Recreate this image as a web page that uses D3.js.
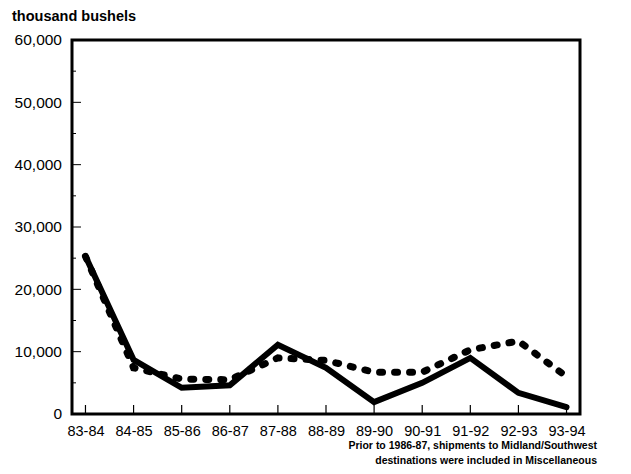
<!DOCTYPE html>
<html><head><meta charset="utf-8">
<script src="https://cdn.jsdelivr.net/npm/d3@7"></script>
<style>body{margin:0;background:#fff}svg{display:block}text{font-family:"Liberation Sans",Arial,sans-serif;fill:#000}</style>
</head><body>
<svg id="c" width="631" height="474"></svg>
<script>
const categories = ["83-84","84-85","85-86","86-87","87-88","88-89","89-90","90-91","91-92","92-93","93-94"];
const solidValues = [25300, 8700, 4200, 4600, 11100, 7400, 1900, 5000, 9000, 3400, 1100];
const dottedValues = [25300, 7400, 5600, 5500, 9000, 8600, 6700, 6700, 10300, 11700, 6000];
const yTicks = [0, 10000, 20000, 30000, 40000, 50000, 60000];
const yMinorTicks = [5000, 15000, 25000, 35000, 45000, 55000];
const yLabel = "thousand bushels";
const note = ["Prior to 1986-87, shipments to Midland/Southwest", "destinations were included in Miscellaneous"];

const svg = d3.select("#c");
const L = 72, R = 580, T = 40, B = 414;
const x = d3.scalePoint().domain(categories).range([L, R]).padding(0.28);
const y = d3.scaleLinear().domain([0, 60000]).range([B, T]);

svg.append("text").attr("x", 12).attr("y", 21).attr("font-size", 14.5).attr("font-weight", "bold").text(yLabel);

// y axis labels
const ya = svg.append("g").attr("transform", `translate(${L},0)`)
  .call(d3.axisLeft(y).tickValues(yTicks).tickSize(0).tickPadding(10).tickFormat(d3.format(",")));
ya.select(".domain").remove();
ya.selectAll("text").attr("font-size", 15.5).attr("font-family", '"Liberation Sans",Arial,sans-serif');

// y inner ticks
svg.append("g").selectAll("line").data(yTicks.slice(1, -1)).join("line")
  .attr("x1", L).attr("x2", L + 9).attr("y1", d => y(d)).attr("y2", d => y(d))
  .attr("stroke", "#000").attr("stroke-width", 1);
svg.append("g").selectAll("line").data(yMinorTicks).join("line")
  .attr("x1", L).attr("x2", L + 4).attr("y1", d => y(d)).attr("y2", d => y(d))
  .attr("stroke", "#000").attr("stroke-width", 1);

// x axis labels
const xa = svg.append("g").attr("transform", `translate(0,${B})`)
  .call(d3.axisBottom(x).tickSize(0).tickPadding(12));
xa.select(".domain").remove();
xa.selectAll("text").attr("font-size", 14.5).attr("font-family", '"Liberation Sans",Arial,sans-serif');
svg.append("g").selectAll("line").data(categories).join("line")
  .attr("x1", d => x(d)).attr("x2", d => x(d)).attr("y1", B).attr("y2", B - 9)
  .attr("stroke", "#000").attr("stroke-width", 1.2);

// lines
const line = d3.line().x((d, i) => x(categories[i])).y(d => y(d));
svg.append("path").datum(dottedValues).attr("d", line).attr("fill", "none")
  .attr("stroke", "#000").attr("stroke-width", 7).attr("stroke-linecap", "round")
  .attr("stroke-dasharray", "3 12");
svg.append("path").datum(solidValues).attr("d", line).attr("fill", "none")
  .attr("stroke", "#000").attr("stroke-width", 6).attr("stroke-linejoin", "miter").attr("stroke-linecap", "round");

// frame
svg.append("rect").attr("x", L).attr("y", T).attr("width", R - L).attr("height", B - T)
  .attr("fill", "none").attr("stroke", "#000").attr("stroke-width", 3);

// footnote
svg.append("g").selectAll("text").data(note).join("text")
  .attr("x", 597).attr("y", (d, i) => 449 + i * 15).attr("text-anchor", "end")
  .attr("font-size", 10.5).attr("font-weight", "bold").text(d => d);
</script>
</body></html>
